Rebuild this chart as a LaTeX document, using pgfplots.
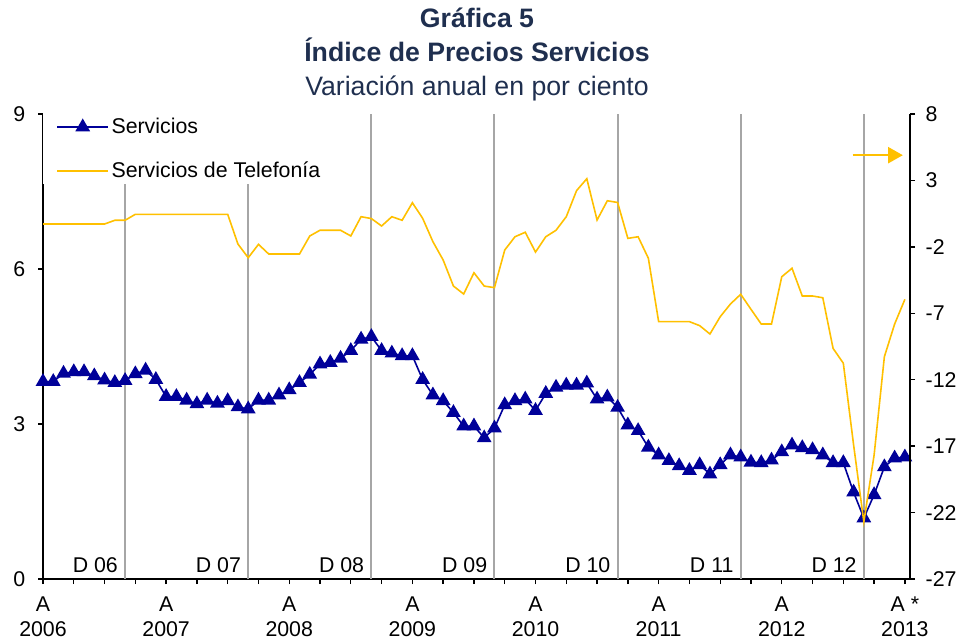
\documentclass[border=0pt]{standalone}
\usepackage{pgfplots}
\usepackage{pgfplotstable}
\pgfplotsset{compat=1.18}
\usepackage{fontspec}
\setmainfont{Liberation Sans}
\usetikzlibrary{arrows.meta}
\definecolor{navy}{HTML}{000099}
\definecolor{gold}{HTML}{FFC000}
\definecolor{vgray}{HTML}{A6A6A6}
\definecolor{titlecol}{HTML}{1F2F4F}

\pgfplotstableread{
x y
0 3.82
1 3.82
2 3.98
3 4.01
4 4.01
5 3.93
6 3.85
7 3.80
8 3.84
9 3.97
10 4.04
11 3.86
12 3.53
13 3.53
14 3.46
15 3.39
16 3.46
17 3.40
18 3.45
19 3.33
20 3.29
21 3.46
22 3.46
23 3.56
24 3.66
25 3.80
26 3.96
27 4.16
28 4.19
29 4.27
30 4.42
31 4.64
32 4.69
33 4.42
34 4.37
35 4.32
36 4.32
37 3.86
38 3.56
39 3.45
40 3.22
41 2.96
42 2.96
43 2.73
44 2.92
45 3.37
46 3.45
47 3.48
48 3.26
49 3.59
50 3.71
51 3.75
52 3.75
53 3.79
54 3.48
55 3.52
56 3.32
57 2.98
58 2.87
59 2.55
60 2.40
61 2.29
62 2.19
63 2.10
64 2.21
65 2.03
66 2.21
67 2.40
68 2.36
69 2.26
70 2.25
71 2.30
72 2.46
73 2.59
74 2.54
75 2.50
76 2.40
77 2.25
78 2.25
79 1.68
80 1.18
81 1.63
82 2.17
83 2.34
84 2.36
}\servicios

\pgfplotstableread{
x y
0 -0.28
1 -0.28
2 -0.28
3 -0.28
4 -0.28
5 -0.28
6 -0.28
7 0.00
8 0.00
9 0.45
10 0.45
11 0.45
12 0.45
13 0.45
14 0.45
15 0.45
16 0.45
17 0.45
18 0.45
19 -1.79
20 -2.82
21 -1.81
22 -2.54
23 -2.54
24 -2.54
25 -2.54
26 -1.18
27 -0.75
28 -0.75
29 -0.75
30 -1.18
31 0.27
32 0.13
33 -0.43
34 0.27
35 0.00
36 1.32
37 0.15
38 -1.61
39 -2.99
40 -4.95
41 -5.55
42 -3.95
43 -4.95
44 -5.07
45 -2.24
46 -1.24
47 -0.90
48 -2.39
49 -1.24
50 -0.75
51 0.27
52 2.23
53 3.13
54 0.02
55 1.47
56 1.34
57 -1.36
58 -1.24
59 -2.86
60 -7.63
61 -7.63
62 -7.63
63 -7.63
64 -7.93
65 -8.56
66 -7.26
67 -6.30
68 -5.57
69 -6.70
70 -7.81
71 -7.81
72 -4.25
73 -3.61
74 -5.70
75 -5.70
76 -5.83
77 -9.64
78 -10.76
79 -16.90
80 -22.70
81 -17.67
82 -10.27
83 -7.81
84 -5.95
}\telefonia

\begin{document}
\begin{tikzpicture}
\useasboundingbox (0,0) rectangle (721.5pt,481.5pt);
\pgfplotsset{
  base/.style={
    scale only axis, width=650.25pt, height=348.75pt,
    at={(32.25pt,47.25pt)}, anchor=south west,
    xmin=0, xmax=84.5,
    tick align=outside,
    major tick length=3.75pt, minor tick length=3.75pt,
    tick style={black, line width=1pt},
    axis line style={black, line width=1.1pt},
    ticklabel style={font=\fontsize{16}{18.75}\selectfont},
    /pgf/number format/assume math mode=true,
    clip=false,
  }
}
\node[anchor=base, font=\fontsize{20}{24}\selectfont\bfseries, text=titlecol] at (357.75pt,460.5pt) {Gráfica 5};
\node[anchor=base, font=\fontsize{20}{24}\selectfont\bfseries, text=titlecol] at (357.75pt,435pt) {Índice de Precios Servicios};
\node[anchor=base, font=\fontsize{20}{24}\selectfont, text=titlecol] at (357.75pt,409.5pt) {Variación anual en por ciento};

\begin{axis}[base,
  axis x line*=bottom, axis y line*=left,
  ymin=0, ymax=9, ytick={0,3,6,9},
  xtick={0,12,...,84},
  xticklabels={{A\\2006},{A\\2007},{A\\2008},{A\\2009},{A\\2010},{A\\2011},{A\\2012},{A *\\2013}},
  xticklabel style={align=center, inner sep=0pt, yshift=-9.5pt},
  minor xtick={3,6,...,81},
  extra x ticks={8,20,32,44,56,68,80},
  extra x tick labels={},
  extra x tick style={grid=major, major grid style={vgray, line width=1.5pt}, major tick length=0pt},
  yticklabel style={xshift=-6pt},
]
\addplot[navy, line width=1.2pt, mark=triangle*, mark size=5.2pt, mark options={solid}] table {\servicios};
\foreach \xx/\lab in {8/D 06,20/D 07,32/D 08,44/D 09,56/D 10,68/D 11,80/D 12}{
  \edef\temp{\noexpand\node[anchor=base east, inner sep=0pt, xshift=-5.25pt, font=\noexpand\fontsize{16}{19}\noexpand\selectfont] at (axis cs:\xx,0.135) {\lab};}
  \temp
}
\end{axis}

\begin{axis}[base,
  axis x line=none, axis y line*=right,
  ymin=-27, ymax=8, ytick={-27,-22,...,8},
  yticklabel style={xshift=4.5pt},
  legend style={at={(axis description cs:0,1)}, anchor=north west, fill=white, draw=none,
    font=\fontsize{16}{19}\selectfont, row sep=15.6pt, inner xsep=10pt, inner ysep=1pt},
  legend cell align=left,
  legend image code/.code={\draw[mark repeat=2,mark phase=2,#1] plot coordinates {(0pt,0pt) (19pt,0pt) (38pt,0pt)};},
]
\addlegendimage{navy, line width=1.2pt, mark=triangle*, mark size=5.2pt}
\addlegendentry{Servicios}
\addplot[gold, line width=1.2pt, no marks] table {\telefonia};
\addlegendentry{Servicios de Telefonía}
\draw[gold, line width=1.5pt, -{Triangle[length=11pt,width=12pt]}] (axis cs:78.9,4.9) -- (axis cs:83.8,4.9);
\end{axis}
\end{tikzpicture}
\end{document}
